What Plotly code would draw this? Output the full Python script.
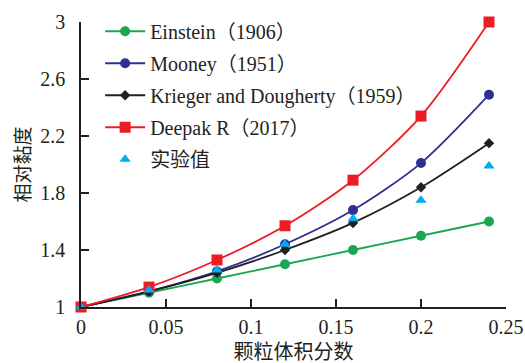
import plotly.graph_objects as go

# Particle volume fraction and relative viscosity of each model
phi = [0, 0.04, 0.08, 0.12, 0.16, 0.20, 0.24]
einstein = [1.0, 1.10, 1.20, 1.30, 1.40, 1.50, 1.60]
mooney = [1.0, 1.11, 1.25, 1.44, 1.68, 2.01, 2.49]
krieger = [1.0, 1.11, 1.24, 1.40, 1.59, 1.84, 2.15]
deepak = [1.0, 1.14, 1.33, 1.57, 1.89, 2.34, 3.0]
measured = [1.0, 1.12, 1.26, 1.44, 1.62, 1.75, 1.99]

x_ticks = [0, 0.05, 0.1, 0.15, 0.2, 0.25]
x_labels = ["0", "0.05", "0.1", "0.15", "0.2", "0.25"]
y_ticks = [1, 1.4, 1.8, 2.2, 2.6, 3]
y_labels = ["1", "1.4", "1.8", "2.2", "2.6", "3"]

FONT = "Liberation Serif, Times New Roman, Noto Sans CJK SC, serif"
INK = "#231F20"

fig = go.Figure()

series = [
    ("Einstein（1906）", einstein, "#1BA652", "circle", 10),
    ("Mooney（1951）", mooney, "#2E3192", "circle", 10),
    ("Krieger and Dougherty（1959）", krieger, INK, "diamond", 8),
    ("Deepak R（2017）", deepak, "#ED1C24", "square", 11),
]
for i, (name, ys, color, sym, size) in enumerate(series):
    fig.add_trace(go.Scatter(
        x=phi, y=ys, name=name, mode="lines+markers", legendgroup=f"g{i}",
        line=dict(color=color, width=1.8, shape="spline", smoothing=0.8),
        marker=dict(symbol=sym, size=size, color=color),
        cliponaxis=False,
    ))

fig.add_trace(go.Scatter(
    x=phi, y=measured, name="实验值", mode="markers", legendgroup="g4",
    marker=dict(symbol="triangle-up", size=10, color="#00AEEF"),
    cliponaxis=False,
))

fig.update_layout(
    width=525, height=363,
    margin=dict(l=81, r=19, t=22, b=56),
    paper_bgcolor="white", plot_bgcolor="white",
    font=dict(family=FONT, size=20, color=INK),
    legend=dict(
        x=0.045, y=1.036, xanchor="left", yanchor="top",
        bgcolor="rgba(0,0,0,0)", font=dict(size=20),
        itemwidth=40, tracegroupgap=3,
    ),
    showlegend=True,
)
fig.update_xaxes(
    range=[0, 0.25], tickvals=x_ticks, ticktext=x_labels,
    ticks="inside", ticklen=8, tickwidth=1.5, tickcolor=INK,
    showline=True, linecolor=INK, linewidth=1.5,
    showgrid=False, zeroline=False, ticklabelstandoff=1, automargin=False,
    title=dict(text="颗粒体积分数", font=dict(size=20), standoff=12),
)
fig.update_yaxes(
    range=[1, 3], tickvals=y_ticks, ticktext=y_labels,
    ticks="inside", ticklen=8, tickwidth=1.5, tickcolor=INK,
    showline=True, linecolor=INK, linewidth=1.5,
    showgrid=False, zeroline=False, ticklabelstandoff=10, automargin=False,
    title=dict(text="相对黏度", font=dict(size=19), standoff=5),
)

fig.write_html("out.html")
